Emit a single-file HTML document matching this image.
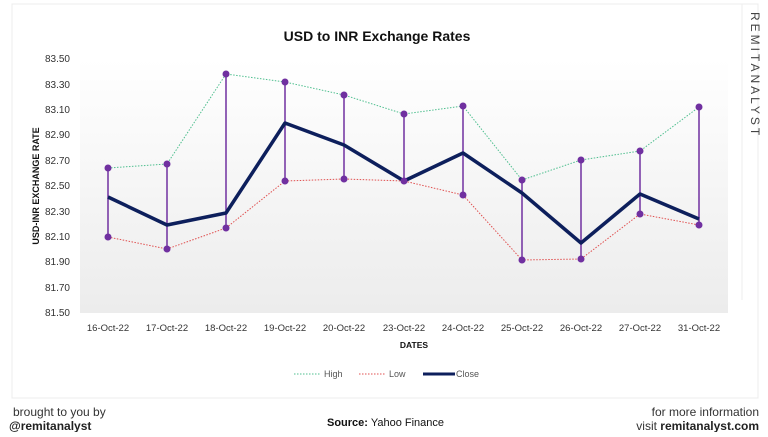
<!DOCTYPE html>
<html><head><meta charset="utf-8"><style>
body{margin:0;background:#fff;width:768px;height:432px;overflow:hidden;font-family:"Liberation Sans",sans-serif;}
</style></head><body>
<svg width="768" height="432" xmlns="http://www.w3.org/2000/svg" font-family="Liberation Sans, sans-serif">
<defs><linearGradient id="g" x1="0" y1="0" x2="0" y2="1"><stop offset="0" stop-color="#ffffff"/><stop offset="1" stop-color="#ececec"/></linearGradient></defs>
<rect x="12" y="4" width="746" height="394" fill="#fff" stroke="#ececec"/>
<line x1="742" y1="4" x2="742" y2="300" stroke="#eee"/>
<rect x="80" y="59" width="648" height="254" fill="url(#g)"/>
<text x="377" y="41" font-size="14" font-weight="bold" text-anchor="middle" fill="#111">USD to INR Exchange Rates</text>
<g font-size="10" fill="#333" text-anchor="end">
<text x="70" y="62">83.50</text><text x="70" y="88">83.30</text><text x="70" y="113">83.10</text><text x="70" y="138">82.90</text><text x="70" y="164">82.70</text><text x="70" y="189">82.50</text><text x="70" y="215">82.30</text><text x="70" y="240">82.10</text><text x="70" y="265">81.90</text><text x="70" y="291">81.70</text><text x="70" y="316">81.50</text>
</g>
<text transform="translate(39,186) rotate(-90)" font-size="9" font-weight="bold" text-anchor="middle" fill="#111">USD-INR EXCHANGE RATE</text>
<g font-size="9.5" fill="#333" text-anchor="middle">
<text x="108" y="331">16-Oct-22</text><text x="167" y="331">17-Oct-22</text><text x="226" y="331">18-Oct-22</text><text x="285" y="331">19-Oct-22</text><text x="344" y="331">20-Oct-22</text><text x="404" y="331">23-Oct-22</text><text x="463" y="331">24-Oct-22</text><text x="522" y="331">25-Oct-22</text><text x="581" y="331">26-Oct-22</text><text x="640" y="331">27-Oct-22</text><text x="699" y="331">31-Oct-22</text>
</g>
<text x="414" y="348" font-size="8.5" font-weight="bold" text-anchor="middle" fill="#111">DATES</text>
<g stroke="#7030a0" stroke-width="1.5">
<line x1="108" y1="168" x2="108" y2="237"/><line x1="167" y1="164" x2="167" y2="249"/><line x1="226" y1="74" x2="226" y2="228"/><line x1="285" y1="82" x2="285" y2="181"/><line x1="344" y1="95" x2="344" y2="179"/><line x1="404" y1="114" x2="404" y2="181"/><line x1="463" y1="106" x2="463" y2="195"/><line x1="522" y1="180" x2="522" y2="260"/><line x1="581" y1="160" x2="581" y2="259"/><line x1="640" y1="151" x2="640" y2="214"/><line x1="699" y1="107" x2="699" y2="225"/>
</g>
<polyline fill="none" stroke="#4fbf8f" stroke-width="1" stroke-dasharray="1.5,1.5" points="108,168 167,164 226,74 285,82 344,95 404,114 463,106 522,180 581,160 640,151 699,107"/>
<polyline fill="none" stroke="#e05050" stroke-width="1" stroke-dasharray="1.5,1.5" points="108,237 167,249 226,228 285,181 344,179 404,181 463,195 522,260 581,259 640,214 699,225"/>
<polyline fill="none" stroke="#0d1f5c" stroke-width="3.5" stroke-linejoin="round" points="108,197 167,225 226,213 285,123 344,145 404,181 463,153 522,193 581,243 640,194 699,219"/>
<g fill="#7030a0">
<circle cx="108" cy="168" r="3.5"/><circle cx="167" cy="164" r="3.5"/><circle cx="226" cy="74" r="3.5"/><circle cx="285" cy="82" r="3.5"/><circle cx="344" cy="95" r="3.5"/><circle cx="404" cy="114" r="3.5"/><circle cx="463" cy="106" r="3.5"/><circle cx="522" cy="180" r="3.5"/><circle cx="581" cy="160" r="3.5"/><circle cx="640" cy="151" r="3.5"/><circle cx="699" cy="107" r="3.5"/>
<circle cx="108" cy="237" r="3.5"/><circle cx="167" cy="249" r="3.5"/><circle cx="226" cy="228" r="3.5"/><circle cx="285" cy="181" r="3.5"/><circle cx="344" cy="179" r="3.5"/><circle cx="404" cy="181" r="3.5"/><circle cx="463" cy="195" r="3.5"/><circle cx="522" cy="260" r="3.5"/><circle cx="581" cy="259" r="3.5"/><circle cx="640" cy="214" r="3.5"/><circle cx="699" cy="225" r="3.5"/>
</g>
<line x1="294" y1="374" x2="320" y2="374" stroke="#4fbf8f" stroke-dasharray="1.5,1.5"/>
<text x="324" y="377" font-size="9" fill="#555">High</text>
<line x1="359" y1="374" x2="385" y2="374" stroke="#e05050" stroke-dasharray="1.5,1.5"/>
<text x="389" y="377" font-size="9" fill="#555">Low</text>
<line x1="423" y1="374" x2="455" y2="374" stroke="#0d1f5c" stroke-width="3"/>
<text x="456" y="377" font-size="9" fill="#555">Close</text>
<text transform="translate(751,12) rotate(90)" font-size="12" letter-spacing="3" fill="#444">REMITANALYST</text>
<text x="13" y="416" font-size="12" fill="#333">brought to you by</text>
<text x="9" y="430" font-size="12" font-weight="bold" fill="#222">@remitanalyst</text>
<text x="327" y="426" font-size="11" fill="#111"><tspan font-weight="bold">Source:</tspan> Yahoo Finance</text>
<text x="759" y="416" font-size="12" fill="#333" text-anchor="end">for more information</text>
<text x="759" y="430" font-size="12" fill="#333" text-anchor="end">visit <tspan font-weight="bold" fill="#222">remitanalyst.com</tspan></text>
</svg>
</body></html>
